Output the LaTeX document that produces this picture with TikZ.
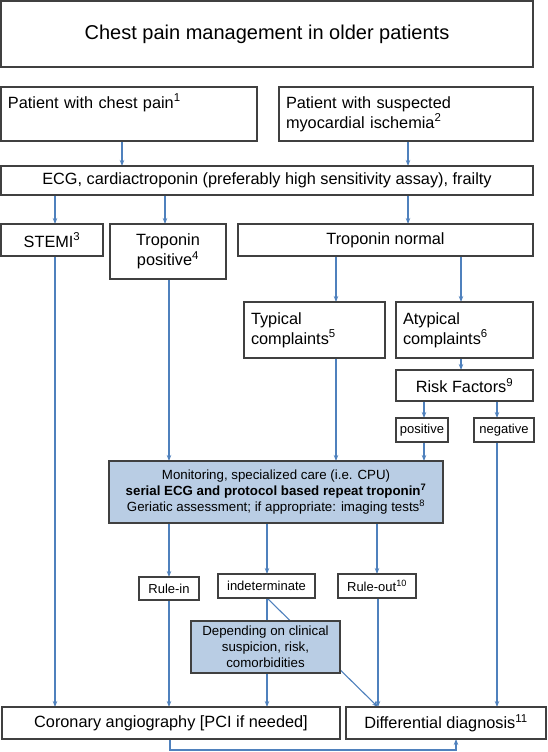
\documentclass[tikz,border=0pt]{standalone}
\usepackage{fontspec}
\setmainfont{Liberation Sans}
\usetikzlibrary{arrows.meta,backgrounds,calc}
\definecolor{lnblue}{RGB}{79,129,189}
\definecolor{boxgray}{RGB}{64,64,64}
\definecolor{fillblue}{RGB}{185,205,228}
\newcommand{\fsz}[2]{\fontsize{#1}{#2}\selectfont}
\newcommand{\bx}[7]{\node[#6, minimum width={(#4-#2)*1pt}, minimum height={(#5-#3)*1pt}] (#1) at (#2,#3) {#7};}
\tikzset{
  box/.style={draw=boxgray, line width=1.1pt, fill=white, inner xsep=7pt, inner ysep=0pt,
    outer sep=0pt, anchor=north west, font=\fsz{16.3}{20}, align=center},
  titlebox/.style={box, font=\fsz{20}{24}},
  bluebox/.style={box, fill=fillblue, font=\fsz{13.3}{16}},
  smallbox/.style={box, inner xsep=2pt, font=\fsz{13}{16}},
  leftbox/.style={box, align=left},
  arr/.style={draw=lnblue, line width=1.1pt, -{Stealth[length=6pt,width=4.5pt]}},
}
\begin{document}
\begin{tikzpicture}[x=1pt,y=-1pt]
\useasboundingbox (0,0) rectangle (547,752);
\bx{title}{1}{1}{533}{67}{titlebox}{Chest pain management in older patients}
\bx{p1}{1}{87}{257}{141}{leftbox, text width=242pt, text height=12pt, text depth=24pt}{Patient with chest pain\textsuperscript{1}}
\bx{p2}{279}{87}{533}{141}{leftbox, text width=240pt}{Patient with suspected\\myocardial ischemia\textsuperscript{2}}
\bx{ecg}{1}{166}{533}{195}{box}{ECG, cardiactroponin (preferably high sensitivity assay), frailty}
\bx{stemi}{1}{224}{103}{256}{box}{STEMI\textsuperscript{3}}
\bx{tpos}{110}{224}{226}{279}{box}{Troponin\\positive\textsuperscript{4}}
\bx{tnorm}{238}{224}{533}{256}{box}{Troponin normal}
\bx{typ}{244}{302}{385}{358}{leftbox, text width=127pt}{Typical\\complaints\textsuperscript{5}}
\bx{atyp}{396}{302}{533}{358}{leftbox, text width=123pt}{Atypical\\complaints\textsuperscript{6}}
\bx{risk}{396}{370}{533}{401}{box}{Risk Factors\textsuperscript{9}}
\bx{pos}{396}{418}{448}{442}{smallbox}{positive}
\bx{neg}{474}{418}{534}{442}{smallbox}{negative}
\bx{mon}{109}{461}{443}{523}{bluebox}{Monitoring, specialized care (i.e. CPU)\\\textbf{serial ECG and protocol based repeat troponin\textsuperscript{7}}\\Geriatic assessment; if appropriate: imaging tests\textsuperscript{8}}
\bx{rin}{139}{577}{199}{600}{smallbox}{Rule-in}
\bx{ind}{218}{574}{315}{598}{smallbox}{indeterminate}
\bx{rout}{338}{574}{416}{598}{smallbox}{Rule-out\textsuperscript{10}}
\bx{dep}{191}{621}{340}{673}{bluebox}{Depending on clinical\\suspicion, risk,\\comorbidities}
\bx{cor}{2}{707}{340}{739}{box}{Coronary angiography [PCI if needed]}
\bx{diff}{346}{707}{546}{739}{box}{Differential diagnosis\textsuperscript{11}}
\coordinate (bend) at (456,750);
\begin{scope}[on background layer]
\fill[white] (0,0) rectangle (547,752);
\draw[arr] (p1.south -| 122,0) -- (ecg.north -| 122,0);
\draw[arr] (p2.south -| 408,0) -- (ecg.north -| 408,0);
\draw[arr] (ecg.south -| 55,0) -- (stemi.north -| 55,0);
\draw[arr] (ecg.south -| 165,0) -- (tpos.north -| 165,0);
\draw[arr] (ecg.south -| 408,0) -- (tnorm.north -| 408,0);
\draw[arr] (tnorm.south -| 336,0) -- (typ.north -| 336,0);
\draw[arr] (tnorm.south -| 461,0) -- (atyp.north -| 461,0);
\draw[arr] (atyp.south -| 461,0) -- (risk.north -| 461,0);
\draw[arr] (risk.south -| 424,0) -- (pos.north -| 424,0);
\draw[arr] (risk.south -| 497,0) -- (neg.north -| 497,0);
\draw[arr] (tpos.south -| 169,0) -- (mon.north -| 169,0);
\draw[arr] (typ.south -| 336,0) -- (mon.north -| 336,0);
\draw[arr] (pos.south -| 424,0) -- (mon.north -| 424,0);
\draw[arr] (neg.south -| 497,0) -- (diff.north -| 497,0);
\draw[arr] (stemi.south -| 55,0) -- (cor.north -| 55,0);
\draw[arr] (mon.south -| 169,0) -- (rin.north -| 169,0);
\draw[arr] (mon.south -| 267,0) -- (ind.north -| 267,0);
\draw[arr] (mon.south -| 377,0) -- (rout.north -| 377,0);
\draw[arr] (rin.south -| 169,0) -- (cor.north -| 169,0);
\draw[arr] (ind.south -| 267,0) -- (cor.north -| 267,0);
\draw[arr] (ind.south -| 267,0) -- (diff.north -| 378,0);
\draw[arr] (rout.south -| 378,0) -- (diff.north -| 378,0);
\draw[arr] (cor.south -| 170,0) |- (bend) -- (diff.south -| 456,0);
\end{scope}
\end{tikzpicture}
\end{document}
